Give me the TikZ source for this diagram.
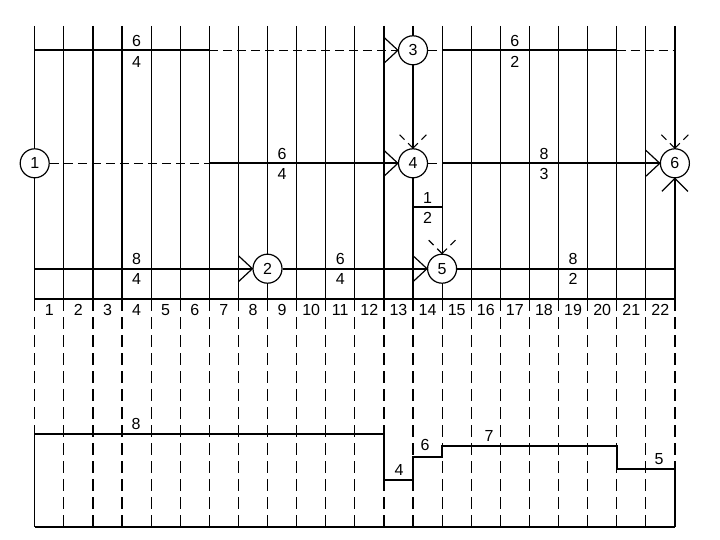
\documentclass[tikz,border=0pt]{standalone}
\usepackage{fontspec}
\setmainfont{Liberation Sans}
\begin{document}
\begin{tikzpicture}[x=1pt,y=-1pt,
  grid/.style={line width=1.2pt},
  gdash/.style={line width=1.2pt, dash pattern=on 12pt off 6pt},
  act/.style={line width=2pt},
  flt/.style={line width=1.3pt, dash pattern=on 9pt off 5pt},
  armd/.style={line width=1.1pt, dash pattern=on 7pt off 5pt},
  arm/.style={line width=1.2pt},
  ev/.style={circle, draw, fill=white, line width=1.2pt, minimum size=29pt, inner sep=0pt, font=\fontsize{16}{18}\selectfont},
  lab/.style={inner sep=0pt, font=\fontsize{16}{18}\selectfont}]
\useasboundingbox (0,0) rectangle (720,540);
% grid coordinates
\foreach \i in {0,...,22} \coordinate (g\i) at ({34.7+29.1*\i},0);
\foreach \i in {1,...,22} \coordinate (c\i) at ({34.7+29.1*(\i-0.5)},0);
\coordinate (rT) at (0,26);
\coordinate (rA) at (0,50.3);
\coordinate (rB) at (0,163.3);
\coordinate (rC) at (0,268.7);
\coordinate (rX) at (0,299.3);
\coordinate (rE) at (0,526.7);
% vertical grid lines
\foreach \i in {0,...,22} {
  \draw[grid] (g\i |- rT) -- (g\i |- rX);
  \draw[gdash] (g\i |- rX) -- (g\i |- rE);
}
% axis and column numbers
\draw[act] (g0 |- rX) -- (g22 |- rX);
\foreach \i in {1,...,22} \node[lab] (col\i) at (c\i |- 0,310) {\i};
% events
\node[ev] (n1) at (g0 |- rB) {1};
\node[ev] (n2) at (g8 |- rC) {2};
\node[ev] (n3) at (g13 |- rA) {3};
\node[ev] (n4) at (g13 |- rB) {4};
\node[ev] (n5) at (g14 |- rC) {5};
\node[ev] (n6) at (g22 |- rB) {6};
% top row
\draw[act] (g0 |- rA) -- (g6 |- rA);
\draw[flt] (g6 |- rA) -- (n3.west);
\draw[flt] (n3.east) -- (g14 |- rA);
\draw[act] (g14 |- rA) -- (g20 |- rA);
\draw[flt] (g20 |- rA) -- (g22 |- rA);
% middle row
\draw[flt] (n1.east) -- (g6 |- rB);
\draw[act] (g6 |- rB) -- (n4.west);
\draw[flt] (n4.east) -- (g14 |- rB);
\draw[act] (g14 |- rB) -- (n6.west);
% bottom row
\draw[act] (g0 |- rC) -- (n2.west);
\draw[act] (n2.east) -- (n5.west);
\draw[act] (n5.east) -- (g22 |- rC);
% 4 -> 5 step
\draw[act] (g13 |- 0,206.7) -- (g14 |- 0,206.7);
% horizontal arrow heads
\foreach \n in {n2,n3,n4,n5,n6}
  \draw[arm] (\n.west) ++(-14,-13) -- (\n.west) -- ++(-14,13);
% vertical dashed arrow heads from above
\foreach \n in {n4,n5,n6} {
  \draw[armd] (\n.north) -- ++(-14,-14);
  \draw[armd] (\n.north) -- ++(14,-14);
}
% arrow head from below into 6
\draw[arm] (n6.south) ++(-13,13) -- (n6.south) -- ++(13,13);
% activity labels
\node[lab] (a1t) at (c4 |- 0,41) {6};   \node[lab] (a1b) at (c4 |- 0,62) {4};
\node[lab] (a2t) at (c17 |- 0,41) {6};  \node[lab] (a2b) at (c17 |- 0,62) {2};
\node[lab] (b1t) at (c9 |- 0,154) {6};  \node[lab] (b1b) at (c9 |- 0,174) {4};
\node[lab] (b2t) at (c18 |- 0,154) {8}; \node[lab] (b2b) at (c18 |- 0,174) {3};
\node[lab] (d1t) at (c4 |- 0,259) {8};  \node[lab] (d1b) at (c4 |- 0,279) {4};
\node[lab] (d2t) at (c11 |- 0,259) {6}; \node[lab] (d2b) at (c11 |- 0,279) {4};
\node[lab] (d3t) at (c19 |- 0,259) {8}; \node[lab] (d3b) at (c19 |- 0,279) {2};
\node[lab] (e1t) at (c14 |- 0,198) {1}; \node[lab] (e1b) at (c14 |- 0,218) {2};
% resource profile
\draw[act] (g0 |- 0,434) -- (g12 |- 0,434) -- (g12 |- 0,480.3) -- (g13 |- 0,480.3)
  -- (g13 |- 0,457.1) -- (g14 |- 0,457.1) -- (g14 |- 0,445.5) -- (g20 |- 0,445.5)
  -- (g20 |- 0,468.7) -- (g22 |- 0,468.7);
\draw[grid] (g0 |- 0,434) -- (g0 |- rE);
\draw[grid] (g22 |- 0,468.7) -- (g22 |- rE);
\draw[act] (g0 |- rE) -- (g22 |- rE);
\node[lab] (p8) at (136,424) {8};
\node[lab] (p4) at (399,470) {4};
\node[lab] (p6) at (425,445) {6};
\node[lab] (p7) at (489,436) {7};
\node[lab] (p5) at (659,459) {5};
\end{tikzpicture}
\end{document}
